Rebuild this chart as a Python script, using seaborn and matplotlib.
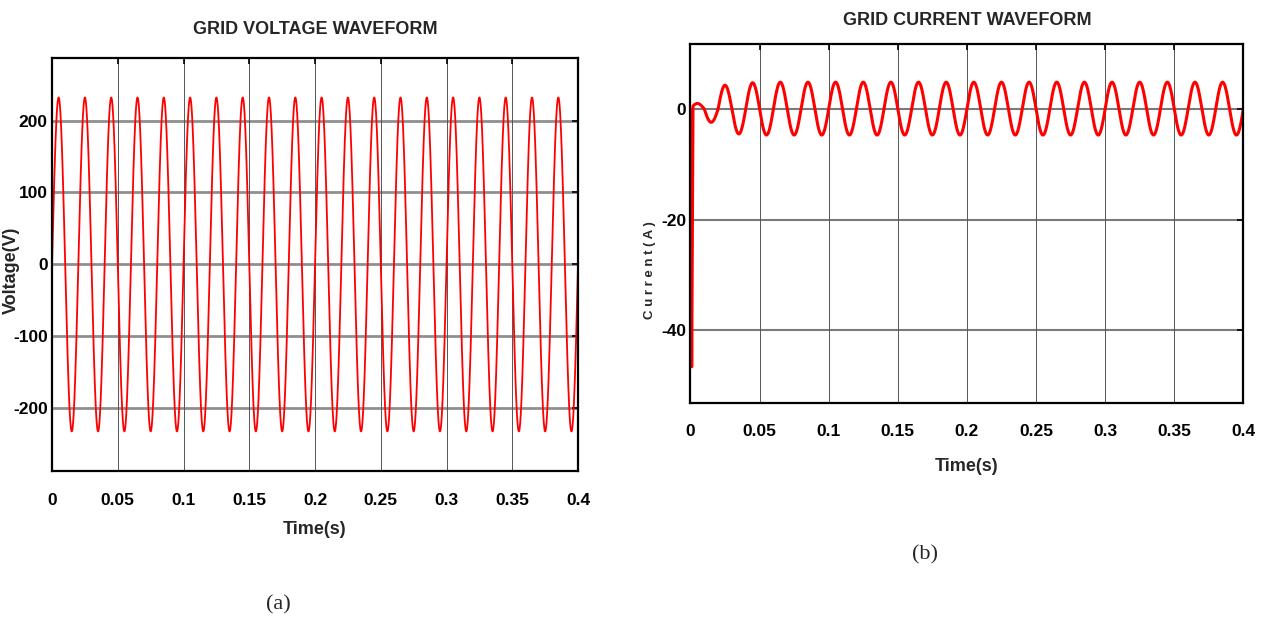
import numpy as np
import seaborn as sns
from matplotlib import pyplot as plt

# ---- data ----
time_ticks = [0, 0.05, 0.1, 0.15, 0.2, 0.25, 0.3, 0.35, 0.4]
voltage_ticks = [-200, -100, 0, 100, 200]
current_ticks = [-40, -20, 0]

grid_freq = 50          # Hz
voltage_peak = 232      # V
# current peak of each half cycle (sign gives polarity), steady after the list
current_half_peaks = [1.0, -2.4, 4.3, -4.5, 4.75, -4.7]
current_steady_pos = 4.85
current_steady_neg = -4.7
# start-up spike
spike_t = [0.0, 0.0009, 0.0018]
spike_i = [0.0, -46.6, 0.3]

t_end = 0.4
t = np.linspace(0, t_end, 8001)

voltage = voltage_peak * np.sin(2 * np.pi * grid_freq * t)

half = np.floor(t * grid_freq * 2).astype(int)
amp = np.where(half % 2 == 0, current_steady_pos, -current_steady_neg)
for k, p in enumerate(current_half_peaks):
    amp[half == k] = abs(p)
current = amp * np.sin(2 * np.pi * grid_freq * t)
mask = t < spike_t[-1]
current[mask] = np.interp(t[mask], spike_t, spike_i)

# ---- style ----
sns.set_style("white")
plt.rcParams['font.family'] = ['Liberation Sans Narrow', 'Liberation Sans', 'DejaVu Sans']
plt.rcParams['font.weight'] = 'bold'

fig = plt.figure(figsize=(12.69, 6.24), dpi=100)
ax1 = fig.add_axes([0.041, 0.2452, 0.4145, 0.662])
ax2 = fig.add_axes([0.5441, 0.3546, 0.4357, 0.5744])


def style_axes(ax, yticks, hgrid_lw, hgrid_color, xpad):
    ax.set_xlim(0, t_end)
    ax.set_xticks(time_ticks)
    ax.set_xticklabels(["%g" % v for v in time_ticks])
    ax.set_yticks(yticks)
    ax.set_yticklabels(["%g" % v for v in yticks])
    for v in yticks:
        ax.axhline(v, color=hgrid_color, lw=hgrid_lw, zorder=0)
    for v in time_ticks[1:-1]:
        ax.axvline(v, color='#555555', lw=0.7, zorder=0)
    for s in ax.spines.values():
        s.set_visible(True)
        s.set_color('black')
        s.set_linewidth(1.6)
    ax.tick_params(direction='in', length=4, width=1.2, top=True, right=True,
                   labelsize=12.5, colors='black')
    ax.tick_params(axis='x', pad=xpad)
    ax.tick_params(axis='y', pad=3)
    for lab in ax.get_xticklabels() + ax.get_yticklabels():
        lab.set_fontweight('bold')


# ---- (a) voltage ----
sns.lineplot(x=t, y=voltage, ax=ax1, color='red', lw=1.3, estimator=None)
ax1.set_ylim(-287, 287)
style_axes(ax1, voltage_ticks, 2.0, '#8f8f8f', 16)
ax1.set_title("GRID VOLTAGE WAVEFORM", fontsize=13, fontweight='bold', pad=17)
ax1.set_xlabel("Time(s)", fontsize=13, fontweight='bold', labelpad=9)
ax1.set_ylabel("Voltage(V)", fontsize=13, fontweight='bold')
ax1.yaxis.set_label_coords(-0.062, 0.487)

# ---- (b) current ----
sns.lineplot(x=t, y=current, ax=ax2, color='red', lw=2.2, estimator=None)
ax2.set_ylim(-53.1, 11.7)
style_axes(ax2, current_ticks, 1.5, '#7a7a7a', 15)
ax2.set_title("GRID CURRENT WAVEFORM", fontsize=13, fontweight='bold', pad=14)
ax2.set_xlabel("Time(s)", fontsize=13, fontweight='bold', labelpad=14)
ax2.set_ylabel("C u r r e n t ( A )", fontsize=9.5, fontweight='bold')
ax2.yaxis.set_label_coords(-0.062, 0.37)

fig.text(278 / 1269, 1 - 605 / 624, "(a)", fontsize=16, family='Liberation Serif',
         fontweight='normal', ha='center', va='center')
fig.text(925 / 1269, 1 - 555 / 624, "(b)", fontsize=16, family='Liberation Serif',
         fontweight='normal', ha='center', va='center')

fig.savefig("out.png", dpi=100)
